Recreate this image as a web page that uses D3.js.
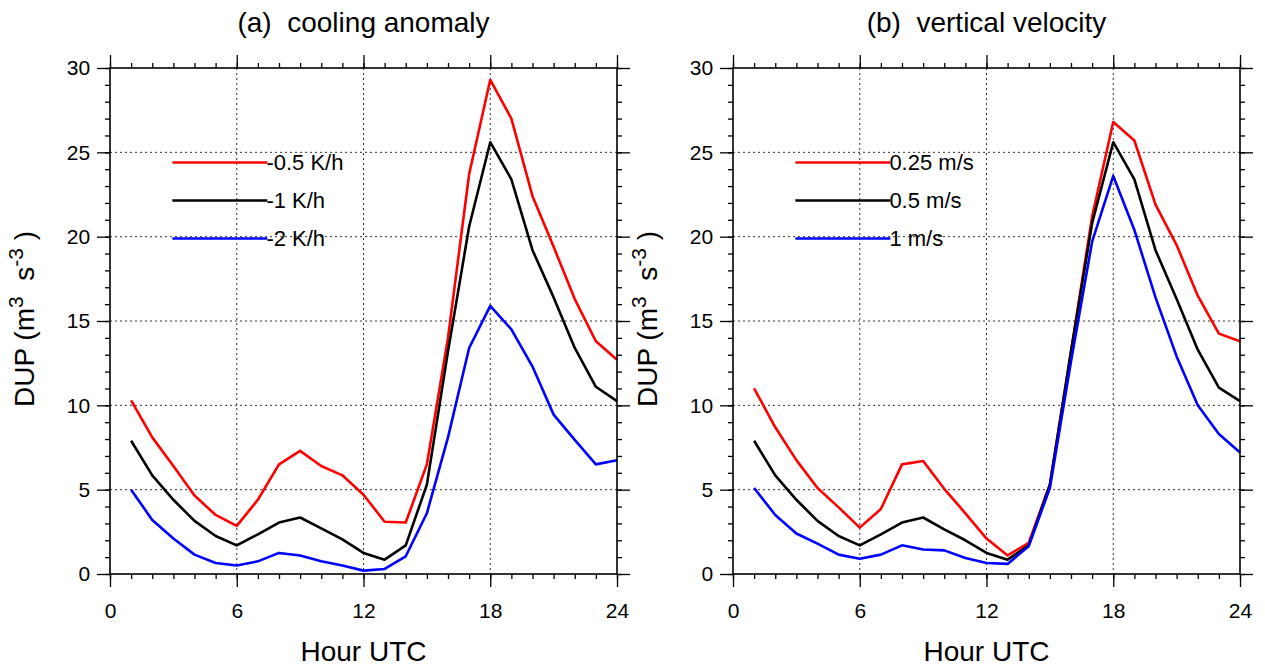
<!DOCTYPE html>
<html>
<head>
<meta charset="utf-8">
<script src="https://cdn.jsdelivr.net/npm/d3@7"></script>
<style>
    body { margin: 0; background: #fff; }
    svg text { font-family: "Liberation Sans", Arial, Helvetica, sans-serif; fill: #000; white-space: pre; }
</style>
</head>
<body>
<svg id="chart" width="1265" height="669"></svg>
<script>
/*globals d3*/

var hours = d3.range(1, 25);

// panel (a): cooling anomaly
var coolHalf = [10.3, 8.1, 6.4, 4.65, 3.5, 2.85, 4.4, 6.5, 7.3, 6.4, 5.85, 4.7,
    3.1, 3.05, 6.5, 14.0, 23.7, 29.3, 27.0, 22.4, 19.4, 16.3, 13.8, 12.7];
var coolOne = [7.9, 5.85, 4.4, 3.15, 2.25, 1.7, 2.35, 3.05, 3.35, 2.7, 2.05, 1.25,
    0.85, 1.7, 5.3, 13.2, 20.6, 25.6, 23.4, 19.2, 16.4, 13.4, 11.1, 10.25];
var coolTwo = [5.0, 3.2, 2.1, 1.15, 0.65, 0.5, 0.75, 1.25, 1.1, 0.75, 0.5, 0.2,
    0.3, 1.05, 3.6, 8.1, 13.4, 15.9, 14.5, 12.3, 9.45, 7.95, 6.5, 6.75];

// panel (b): vertical velocity
var velQuarter = [11.0, 8.7, 6.75, 5.1, 3.95, 2.75, 3.85, 6.5, 6.7, 5.05, 3.6, 2.1,
    1.1, 1.85, 5.3, 13.2, 21.2, 26.8, 25.7, 21.9, 19.5, 16.5, 14.25, 13.8];
var velHalf = [7.9, 5.85, 4.4, 3.15, 2.25, 1.7, 2.35, 3.05, 3.35, 2.65, 2.0, 1.25,
    0.85, 1.7, 5.3, 13.2, 20.8, 25.6, 23.4, 19.2, 16.3, 13.3, 11.05, 10.25];
var velOne = [5.1, 3.5, 2.4, 1.8, 1.15, 0.9, 1.15, 1.7, 1.45, 1.4, 0.95, 0.65,
    0.6, 1.65, 5.1, 12.6, 19.7, 23.6, 20.4, 16.4, 12.9, 10.0, 8.3, 7.2];

var xTicks = [0, 6, 12, 18, 24];
var yTicks = [0, 5, 10, 15, 20, 25, 30];
var lineColors = ["#ff0000", "#000000", "#0000ff"];

var panels = [
    {title: "(a)  cooling anomaly", left: 110, series: [coolHalf, coolOne, coolTwo],
        labels: ["-0.5 K/h", "-1 K/h", "-2 K/h"]},
    {title: "(b)  vertical velocity", left: 733, series: [velQuarter, velHalf, velOne],
        labels: ["0.25 m/s", "0.5 m/s", "1 m/s"]}
];

function drawPanel(svg, p) {
    "use strict";

    var width = 507,
        top = 68,
        height = 506,
        x,
        y,
        g,
        line,
        legend,
        yl;

    x = d3.scaleLinear().domain([0, 24]).range([0, width]);
    y = d3.scaleLinear().domain([0, 30]).range([height, 0]);

    g = svg.append("g").attr("transform", "translate(" + p.left + "," + top + ")");

    // dotted grid at the major ticks
    g.append("g").selectAll("line.gx").data(xTicks.slice(1, -1))
        .enter().append("line")
        .attr("x1", function (d) { return x(d); })
        .attr("x2", function (d) { return x(d); })
        .attr("y1", 0).attr("y2", height)
        .attr("stroke", "#333").attr("stroke-width", 1).attr("stroke-dasharray", "2,3");
    g.append("g").selectAll("line.gy").data(yTicks.slice(1, -1))
        .enter().append("line")
        .attr("y1", function (d) { return y(d); })
        .attr("y2", function (d) { return y(d); })
        .attr("x1", 0).attr("x2", width)
        .attr("stroke", "#333").attr("stroke-width", 1).attr("stroke-dasharray", "2,3");

    function ticks(axis, transform, major, minor, showLabels) {
        var minorG = g.append("g").attr("transform", transform)
            .call(axis.tickValues(minor).tickSize(5).tickFormat(""));
        minorG.select(".domain").remove();
        var majorG = g.append("g").attr("transform", transform)
            .call(axis.tickValues(major).tickSize(13).tickPadding(10)
                .tickFormat(showLabels ? d3.format("d") : ""));
        majorG.select(".domain").remove();
        majorG.selectAll("text").attr("font-size", 21).attr("font-family", null);
        g.selectAll(".tick line").attr("stroke", "#000").attr("stroke-width", 1.3);
        return majorG;
    }

    ticks(d3.axisBottom(x), "translate(0," + height + ")", xTicks, d3.range(0, 25), true)
        .selectAll("text").attr("dy", "1.0em");
    ticks(d3.axisTop(x), "translate(0,0)", xTicks, d3.range(0, 25), false);
    ticks(d3.axisLeft(y), "translate(0,0)", yTicks, d3.range(0, 31), true)
        .selectAll("text").attr("dx", "0.15em");
    ticks(d3.axisRight(y), "translate(" + width + ",0)", yTicks, d3.range(0, 31), false);

    // series
    line = d3.line()
        .x(function (d, i) { return x(hours[i]); })
        .y(function (d) { return y(d); });

    p.series.forEach(function (s, i) {
        g.append("path")
            .datum(s)
            .attr("d", line)
            .attr("fill", "none")
            .attr("stroke", lineColors[i])
            .attr("stroke-width", 2.6)
            .attr("stroke-linejoin", "round");
    });

    // frame
    g.append("rect")
        .attr("width", width).attr("height", height)
        .attr("fill", "none").attr("stroke", "#000").attr("stroke-width", 1.6);

    // legend
    legend = g.append("g").attr("transform", "translate(" + (x(3) - 1) + "," + (y(24.4)) + ")");
    p.labels.forEach(function (lab, i) {
        legend.append("line")
            .attr("x1", 0).attr("x2", 95)
            .attr("y1", i * 38).attr("y2", i * 38)
            .attr("stroke", lineColors[i]).attr("stroke-width", 2.6);
        legend.append("text")
            .attr("x", 94).attr("y", i * 38)
            .attr("dy", "0.36em")
            .attr("font-size", 22)
            .text(lab);
    });

    // titles
    svg.append("text")
        .attr("x", p.left + width / 2).attr("y", 32)
        .attr("text-anchor", "middle").attr("font-size", 28)
        .text(p.title);
    svg.append("text")
        .attr("x", p.left + width / 2).attr("y", 661)
        .attr("text-anchor", "middle").attr("font-size", 28)
        .text("Hour UTC");

    yl = svg.append("text")
        .attr("transform", "translate(" + (p.left - 76) + "," + (top + height / 2 - 2) + ") rotate(-90)")
        .attr("text-anchor", "middle").attr("font-size", 28);
    yl.append("tspan").text("DUP (m");
    yl.append("tspan").attr("dy", -11).attr("font-size", 21).text("3");
    yl.append("tspan").attr("dy", 11).text("  s");
    yl.append("tspan").attr("dy", -11).attr("font-size", 21).text("-3");
    yl.append("tspan").attr("dy", 11).text(" )");
}

var svg = d3.select("#chart");
panels.forEach(function (p) { drawPanel(svg, p); });
</script>
</body>
</html>
